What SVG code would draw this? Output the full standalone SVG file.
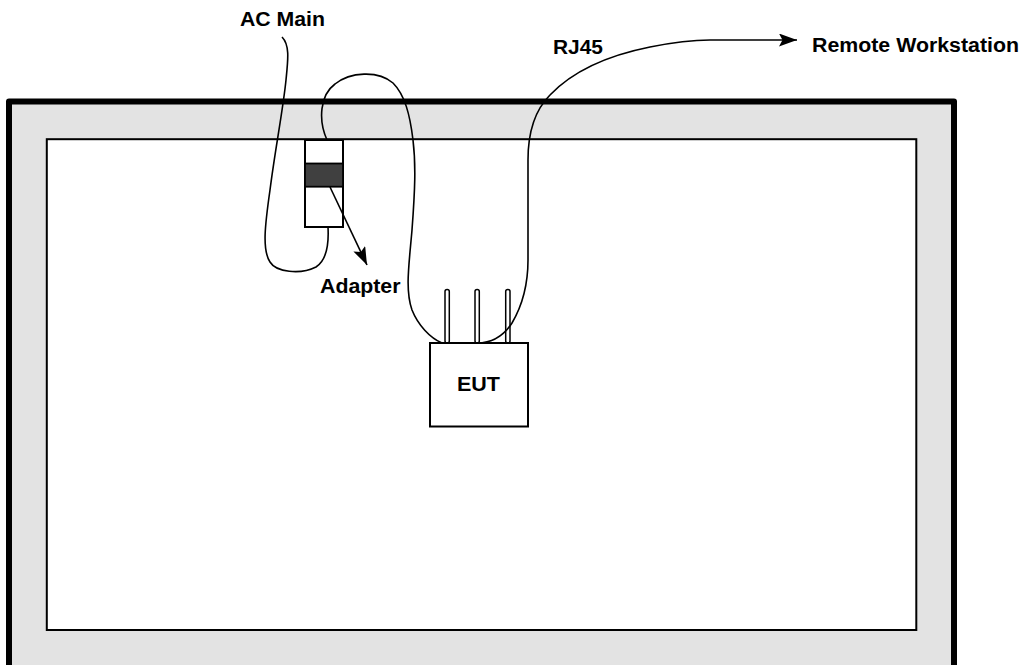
<svg xmlns="http://www.w3.org/2000/svg" width="1024" height="665" viewBox="0 0 1024 665">
  <style>
    .lbl { font-family: "Liberation Sans", Arial, sans-serif; font-weight: bold; font-size: 20px; fill: #000; }
    .cable { fill: none; stroke: #000; stroke-width: 1.6; }
    .box { fill: #fff; stroke: #000; stroke-width: 2; }
    .ant { fill: #fff; stroke: #000; stroke-width: 1.5; }
  </style>
  <defs>
    <marker id="arrow" markerUnits="userSpaceOnUse" markerWidth="20" markerHeight="14" refX="18" refY="6.5" orient="auto">
      <path d="M0,0 L18,6.5 L0,13 L3.5,6.5 Z" fill="#000"/>
    </marker>
  </defs>
  <rect x="0" y="0" width="1024" height="665" fill="#fff"/>

  <g id="room">
    <path d="M9,700 L9,101.5 L954,101.5 L954,700 Z" fill="#e3e3e3" stroke="#000" stroke-width="6" stroke-linejoin="round"/>
    <rect x="46.8" y="139.2" width="869.5" height="490.8" fill="#fff" stroke="#000" stroke-width="2"/>
  </g>

  <g id="adapter">
    <rect x="305" y="140" width="38" height="87" class="box" stroke-width="1.8"/>
    <rect x="305" y="163.5" width="38" height="23.2" fill="#404040" stroke="#000" stroke-width="1.8"/>
  </g>

  <g id="eut">
    <rect x="445" y="289.5" width="4.3" height="53.5" rx="2.1" class="ant"/>
    <rect x="475" y="289.5" width="4.3" height="53.5" rx="2.1" class="ant"/>
    <rect x="505.7" y="289.5" width="4.3" height="53.5" rx="2.1" class="ant"/>
    <rect x="430" y="343" width="98" height="83.5" class="box"/>
    <text x="478.5" y="391" class="lbl" text-anchor="middle" textLength="43" lengthAdjust="spacingAndGlyphs">EUT</text>
  </g>

  <g id="connectors">
    <path class="cable" d="M282,37 C290,45 288,60 286,80 C283,110 275,150 270,190 C265,225 262,250 270,262 C276,272 300,275 316,267 C327,260 329,245 328,227"/>
    <path class="cable" d="M327,140 C318,120 320,95 335,84 C350,72 378,70 393,83 C405,95 410,115 413,140 C416,165 415,190 412,230 C409,265 405,290 412,310 C418,325 430,338 442,343"/>
    <path class="cable" d="M477,343 C492,343 503,337 512,323 C522,306 528,285 528,260 L528,160 C528,130 535,110 550,95 C570,74 600,57 650,47 C670,43 690,40 710,40 L797,40" marker-end="url(#arrow)"/>
    <path class="cable" d="M330,187 L367,265" marker-end="url(#arrow)"/>
  </g>

  <g id="labels">
    <text x="240" y="26" class="lbl" textLength="85" lengthAdjust="spacingAndGlyphs">AC Main</text>
    <text x="553" y="54" class="lbl" textLength="50" lengthAdjust="spacingAndGlyphs">RJ45</text>
    <text x="812" y="52.3" class="lbl" textLength="207" lengthAdjust="spacingAndGlyphs">Remote Workstation</text>
    <text x="320" y="293.3" class="lbl" textLength="80.5" lengthAdjust="spacingAndGlyphs">Adapter</text>
  </g>
</svg>
